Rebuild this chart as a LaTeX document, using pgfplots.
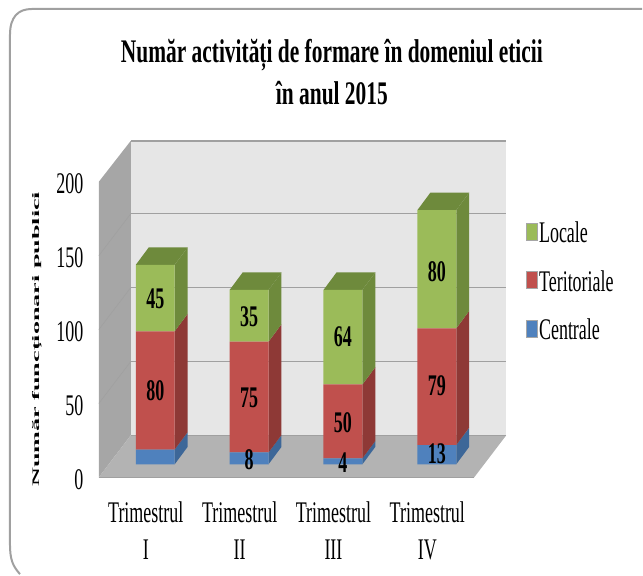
\documentclass[border=0pt]{standalone}
\usepackage{fontspec}
\usepackage{pgfplots}
\pgfplotsset{compat=1.18}
\setmainfont[FakeStretch=0.6]{Liberation Serif}
\newfontfamily\widefont[FakeStretch=2.62]{Liberation Serif}
\newfontfamily\titlefont[FakeStretch=0.65]{Liberation Serif}
\newcommand{\lab}{\fontsize{30}{37}\selectfont}
\definecolor{gf}{HTML}{9BBB59}\definecolor{gs}{HTML}{6E8A3C}
\definecolor{rf}{HTML}{C0504D}\definecolor{rs}{HTML}{8E3936}
\definecolor{bf}{HTML}{4F81BD}\definecolor{bs}{HTML}{3D6798}
\definecolor{wall}{HTML}{E6E6E6}\definecolor{lwall}{HTML}{A6A6A6}
\definecolor{flr}{HTML}{B3B3B3}\definecolor{grd}{HTML}{A0A0A0}
\pgfplotsset{base/.style={
  scale only axis, width=408pt, height=337pt,
  at={(99pt,97pt)}, anchor=south west, clip=false,
  xmin=-0.6011, xmax=3.7394, ymin=-8.784, ymax=218.92}}
\begin{document}
\begin{tikzpicture}[x=1pt,y=1pt]
\path (0,0) rectangle (643,575);
\draw[grd,line width=2pt] (20,0) .. controls (13,8) and (10,14) .. (10,30) -- (10,540) .. controls (10,558) and (18,566) .. (32,566) -- (643,566);
% walls, floor, bar sides and tops
\begin{axis}[base, hide axis]
\addplot[fill=wall,draw=none] coordinates {(-0.2606,19.59)(3.7394,19.59)(3.7394,218.92)(-0.2606,218.92)};
\addplot[fill=lwall,draw=none] coordinates {(-0.6011,-8.78)(-0.2606,19.59)(-0.2606,218.92)(-0.6011,191.2)};
\addplot[fill=flr,draw=none] coordinates {(-0.6011,-8.78)(3.3989,-8.78)(3.7394,19.59)(-0.2606,19.59)};
\addplot[grd,line width=1.5pt] coordinates {(-0.2606,69.6)(3.7394,69.6)};
\addplot[grd,line width=1.5pt] coordinates {(-0.2606,119.6)(3.7394,119.6)};
\addplot[grd,line width=1.5pt] coordinates {(-0.2606,169.6)(3.7394,169.6)};
\addplot[grd,line width=1.5pt] coordinates {(-0.2606,218.9)(3.7394,218.9)};
\addplot[grd,line width=1.5pt] coordinates {(-0.2606,19.59)(3.7394,19.59)};
\addplot[grd,line width=1.5pt] coordinates {(-0.6011,-8.78)(3.3989,-8.78)};
\addplot[grd,line width=0.6pt] coordinates {(-0.6011,41.2)(-0.2606,69.6)};
\addplot[grd,line width=0.6pt] coordinates {(-0.6011,91.2)(-0.2606,119.6)};
\addplot[grd,line width=0.6pt] coordinates {(-0.6011,141.2)(-0.2606,169.6)};
% I
\addplot[fill=bs,draw=none] coordinates {(0.207,0)(0.345,11.8)(0.345,21.8)(0.207,10)};
\addplot[fill=rs,draw=none] coordinates {(0.207,10)(0.345,21.8)(0.345,101.8)(0.207,90)};
\addplot[fill=gs,draw=none] coordinates {(0.207,90)(0.345,101.8)(0.345,146.8)(0.207,135)};
\addplot[fill=gs,draw=none] coordinates {(-0.207,135)(0.207,135)(0.345,146.8)(-0.069,146.8)};
% II
\addplot[fill=bs,draw=none] coordinates {(1.207,0)(1.345,11.8)(1.345,19.8)(1.207,8)};
\addplot[fill=rs,draw=none] coordinates {(1.207,8)(1.345,19.8)(1.345,94.8)(1.207,83)};
\addplot[fill=gs,draw=none] coordinates {(1.207,83)(1.345,94.8)(1.345,129.8)(1.207,118)};
\addplot[fill=gs,draw=none] coordinates {(0.793,118)(1.207,118)(1.345,129.8)(0.931,129.8)};
% III
\addplot[fill=bs,draw=none] coordinates {(2.207,0)(2.345,11.8)(2.345,15.8)(2.207,4)};
\addplot[fill=rs,draw=none] coordinates {(2.207,4)(2.345,15.8)(2.345,65.8)(2.207,54)};
\addplot[fill=gs,draw=none] coordinates {(2.207,54)(2.345,65.8)(2.345,129.8)(2.207,118)};
\addplot[fill=gs,draw=none] coordinates {(1.793,118)(2.207,118)(2.345,129.8)(1.931,129.8)};
% IV
\addplot[fill=bs,draw=none] coordinates {(3.207,0)(3.345,11.8)(3.345,24.8)(3.207,13)};
\addplot[fill=rs,draw=none] coordinates {(3.207,13)(3.345,24.8)(3.345,103.8)(3.207,92)};
\addplot[fill=gs,draw=none] coordinates {(3.207,92)(3.345,103.8)(3.345,183.8)(3.207,172)};
\addplot[fill=gs,draw=none] coordinates {(2.793,172)(3.207,172)(3.345,183.8)(2.931,183.8)};
\end{axis}
% front faces, ticks, legend, titles
\begin{axis}[base,
  ybar stacked, bar width=0.415,
  axis line style={draw=none}, axis x line*=bottom, axis y line*=left,
  tick style={draw=none}, major tick length=0pt,
  xtick={0,1,2,3},
  xticklabels={{Trimestrul\\I},{Trimestrul\\II},{Trimestrul\\III},{Trimestrul\\IV}},
  x tick label style={align=center,font=\lab,xshift=-9.5pt,yshift=-21pt},
  ytick={-8.78,41.22,91.22,141.22,191.22},
  yticklabels={0,50,100,150,200},
  y tick label style={font=\lab,xshift=-12pt,yshift=-2pt},
  /pgf/number format/assume math mode=true,
  ylabel={\widefont\bfseries Număr funcționari publici},
  ylabel style={font=\fontsize{16}{18}\selectfont},
  every axis y label/.style={at={(axis description cs:-0.152,0.41)},rotate=90,anchor=center},
  title={\titlefont\bfseries Număr activități de formare în domeniul eticii\\ \titlefont\bfseries în anul 2015},
  title style={font=\fontsize{33}{42}\selectfont,align=center,at={(axis description cs:0.572,1.186)},anchor=center},
  reverse legend, legend cell align=left,
  legend style={at={(axis description cs:1.047,0.766)},anchor=north west,draw=none,fill=none,font=\lab,inner sep=0pt,
    /tikz/every even column/.append style={column sep=4pt},row sep=22.5pt},
  legend image code/.code={\draw[#1,draw=black!35,line width=0.5pt] (0pt,-7pt) rectangle (11pt,10pt);},
]
\addplot[fill=bf,draw=none] coordinates {(0,10)(1,8)(2,4)(3,13)};
\addplot[fill=rf,draw=none] coordinates {(0,80)(1,75)(2,50)(3,79)};
\addplot[fill=gf,draw=none] coordinates {(0,45)(1,35)(2,64)(3,80)};
\legend{Centrale,Teritoriale,Locale}
\end{axis}
% value labels
\begin{axis}[base, hide axis]
\addplot[draw=none,mark=none,nodes near coords,point meta=explicit symbolic,
  every node near coord/.style={anchor=center,font=\lab\bfseries,text=black,inner sep=0pt}]
  table[meta=m] {
x y m
0 112 45
0 50 80
1 100 35
1 45 75
1 3 8
2 86 64
2 28 50
2 1 4
3 130 80
3 53 79
3 7 13
};
\end{axis}
\end{tikzpicture}
\end{document}
